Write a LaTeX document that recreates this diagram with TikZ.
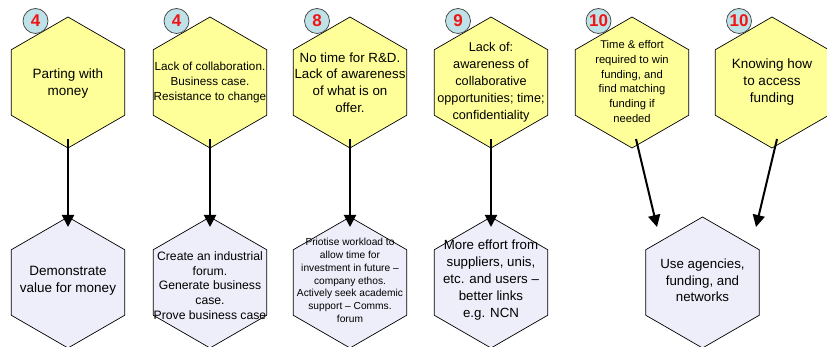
\documentclass[tikz,border=0pt]{standalone}
\usepackage{fontspec}
\setmainfont{Liberation Sans}
\usetikzlibrary{shapes.geometric,arrows.meta}
\definecolor{hexyellow}{RGB}{255,255,153}
\definecolor{hexlav}{RGB}{238,238,250}
\definecolor{badgeblue}{RGB}{190,226,232}
\definecolor{badgered}{RGB}{240,20,20}
\tikzset{
  hexbox/.style={regular polygon, regular polygon sides=6, regular polygon rotate=30,
    minimum size=131pt, inner sep=0pt, outer sep=0pt, draw=black, line width=0.7pt},
  issue/.style={hexbox, fill=hexyellow},
  remedy/.style={hexbox, fill=hexlav},
  badge/.style={circle, minimum size=25pt, inner sep=0pt, draw=black!75, line width=0.7pt,
    fill=badgeblue, text=badgered, font=\fontsize{17}{17}\selectfont\bfseries},
  txt/.style={align=center, inner sep=0pt},
  arr/.style={draw=black, line width=2pt, -{Triangle[length=12pt,width=12pt]}}
}
\newcommand{\fs}[2]{\fontsize{#1}{#2}\selectfont}
\begin{document}
\begin{tikzpicture}[x=1pt,y=-1pt]
\useasboundingbox (0,0) rectangle (827,347);

% issue hexagons (top row)
\node[issue] (t1) at (68,82.5) {};
\node[issue] (t2) at (210,82.5) {};
\node[issue] (t3) at (350,82.5) {};
\node[issue] (t4) at (491,82.5) {};
\node[issue] (t5) at (632,82.5) {};
\node[issue] (t6) at (772,82.5) {};

\node[txt, font=\fs{13.5}{16.7}] (t1t) at ([yshift=-1pt]t1) {Parting with\\money};
\node[txt, font=\fs{11.7}{15}] (t2t) at (t2) {Lack of collaboration.\\Business case.\\Resistance to change};
\node[txt, font=\fs{13.3}{16.7}] (t3t) at (t3) {No time for R\&D.\\Lack of awareness\\of what is on\\offer.};
\node[txt, font=\fs{12.7}{17}] (t4t) at (t4) {Lack of:\\awareness of\\collaborative\\opportunities; time;\\confidentiality};
\node[txt, font=\fs{11.2}{14.8}] (t5t) at ([yshift=1pt]t5) {Time \& effort\\required to win\\funding, and\\find matching\\funding if\\needed};
\node[txt, font=\fs{13.5}{17}] (t6t) at (t6) {Knowing how\\to access\\funding};

% priority badges
\node[badge] (n1) at (35.5,21) {4};
\node[badge] (n2) at (176.5,21) {4};
\node[badge] (n3) at (317,21) {8};
\node[badge] (n4) at (458,21) {9};
\node[badge] (n5) at (598.5,21) {10};
\node[badge] (n6) at (739,21) {10};

% remedy hexagons (bottom row)
\node[remedy] (b1) at (68,282.5) {};
\node[remedy] (b2) at (210,282.5) {};
\node[remedy] (b3) at (350,282.5) {};
\node[remedy] (b4) at (491,282.5) {};
\node[remedy] (b5) at (702.5,282.5) {};

\node[txt, font=\fs{13.5}{16.7}] (b1t) at ([yshift=2pt]b1) {Demonstrate\\value for money};
\node[txt, font=\fs{12.2}{14.6}] (b2t) at ([yshift=-3pt]b2) {Create an industrial\\forum.\\Generate business\\case.\\Prove business case};
\node[txt, font=\fs{10.2}{12.8}] (b3t) at ([yshift=2pt]b3) {Priotise workload to\\allow time for\\investment in future –\\company ethos.\\Actively seek academic\\support – Comms.\\forum};
\node[txt, font=\fs{13.3}{17}] (b4t) at ([yshift=2pt]b4) {More effort from\\suppliers, unis,\\etc. and users –\\better links\\e.g. NCN};
\node[txt, font=\fs{13.3}{16.7}] (b5t) at ([yshift=2pt]b5) {Use agencies,\\funding, and\\networks};

% connectors
\draw[arr] ([yshift=9pt]t1.south) -- ([yshift=-10pt]b1.north);
\draw[arr] ([yshift=9pt]t2.south) -- ([yshift=-10pt]b2.north);
\draw[arr] ([yshift=9pt]t3.south) -- ([yshift=-10pt]b3.north);
\draw[arr] ([yshift=9pt]t4.south) -- ([yshift=-10pt]b4.north);
\coordinate (s5) at ([xshift=4pt,yshift=9pt]t5.south);
\coordinate (e5) at ([xshift=-45.5pt,yshift=-10pt]b5.north);
\coordinate (s6) at ([xshift=5pt,yshift=9pt]t6.south);
\coordinate (e6) at ([xshift=53.5pt,yshift=-10pt]b5.north);
\draw[arr] (s5) -- (e5);
\draw[arr] (s6) -- (e6);
\end{tikzpicture}
\end{document}
